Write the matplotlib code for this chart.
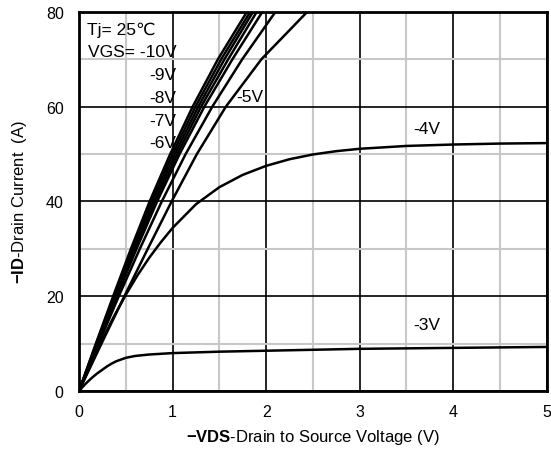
import numpy as np
import matplotlib.pyplot as plt

plt.rcParams['font.family'] = ['Liberation Sans', 'DejaVu Sans']
plt.rcParams['mathtext.fontset'] = 'custom'
plt.rcParams['mathtext.rm'] = 'Liberation Sans'
plt.rcParams['mathtext.bf'] = 'Liberation Sans:bold'

# steep curves (-10V ... -5V), -VDS read at fixed current levels
id_levels = [0, 10, 20, 30, 40, 50, 60, 70, 80]
vds_m10 = [0, 0.18, 0.365, 0.555, 0.755, 0.975, 1.215, 1.485, 1.795]
vds_m9 = [0, 0.185, 0.375, 0.57, 0.775, 1.0, 1.245, 1.52, 1.83]
vds_m8 = [0, 0.19, 0.385, 0.585, 0.795, 1.025, 1.275, 1.555, 1.86]
vds_m7 = [0, 0.195, 0.395, 0.60, 0.815, 1.05, 1.305, 1.595, 1.90]
vds_m6 = [0, 0.20, 0.405, 0.615, 0.835, 1.075, 1.34, 1.64, 1.96]
vds_m55 = [0, 0.21, 0.425, 0.65, 0.885, 1.14, 1.425, 1.745, 2.10]
vds_m5 = [0, 0.24, 0.485, 0.735, 0.99, 1.26, 1.57, 1.95, 2.44]

# -4V and -3V curves
vds_m4 = [0, 0.125, 0.25, 0.375, 0.5, 0.625, 0.75, 0.875, 1.0, 1.25, 1.5,
          1.75, 2.0, 2.25, 2.5, 2.75, 3.0, 3.5, 4.0, 4.5, 5.0]
id_m4 = [0, 5.6, 10.9, 15.8, 20.3, 24.4, 28.1, 31.4, 34.4, 39.4, 43.0,
         45.6, 47.5, 48.9, 49.9, 50.6, 51.1, 51.7, 52.0, 52.2, 52.3]
vds_m3 = [0, 0.05, 0.1, 0.15, 0.2, 0.25, 0.3, 0.35, 0.4, 0.5, 0.6, 0.75,
          1.0, 1.5, 2.0, 3.0, 4.0, 5.0]
id_m3 = [0, 1.1, 2.1, 3.0, 3.8, 4.5, 5.2, 5.8, 6.3, 7.0, 7.4, 7.7,
         8.0, 8.3, 8.5, 8.9, 9.1, 9.3]

fig = plt.figure(figsize=(5.51, 4.52), dpi=100)
ax = fig.add_axes([0.1434, 0.1327, 0.849, 0.839])

lw = 1.8
for xs in [vds_m10, vds_m9, vds_m8, vds_m7, vds_m6, vds_m55, vds_m5]:
    ax.plot(xs, id_levels, color='black', lw=lw)
ax.plot(vds_m4, id_m4, color='black', lw=lw)
ax.plot(vds_m3, id_m3, color='black', lw=lw)

ax.set_xlim(0, 5)
ax.set_ylim(0, 80)
ax.set_xticks([0, 1, 2, 3, 4, 5])
ax.set_yticks([0, 20, 40, 60, 80])
ax.set_xticks(np.arange(0.5, 5, 1), minor=True)
ax.set_yticks([10, 30, 50, 70], minor=True)
ax.grid(which='minor', color='#c8c8c8', lw=1.5)
ax.grid(which='major', color='black', lw=1.2)
ax.set_axisbelow(True)
ax.tick_params(which='both', length=0, labelsize=11.5)
ax.tick_params(axis='x', pad=9)
ax.tick_params(axis='y', pad=11)
for s in ax.spines.values():
    s.set_linewidth(2)

ax.set_xlabel(r'$\mathbf{-VDS}$-Drain to Source Voltage (V)', fontsize=12, labelpad=6)
ax.set_ylabel(r'$\mathbf{-ID}$-Drain Current  (A)', fontsize=12, labelpad=12)

fs = 12.5
ax.text(0.45, 76.4, 'Tj= 25\u2103', fontsize=fs, ha='center', va='center')
ax.text(1.04, 71.7, 'VGS= -10V', fontsize=fs, ha='right', va='center')
ax.text(1.04, 66.7, '-9V', fontsize=fs, ha='right', va='center')
ax.text(1.04, 62.0, '-8V', fontsize=fs, ha='right', va='center')
ax.text(1.04, 57.1, '-7V', fontsize=fs, ha='right', va='center')
ax.text(1.04, 52.4, '-6V', fontsize=fs, ha='right', va='center')
ax.text(1.83, 62.2, '-5V', fontsize=fs, ha='center', va='center')
ax.text(3.72, 55.3, '-4V', fontsize=fs, ha='center', va='center')
ax.text(3.72, 14.1, '-3V', fontsize=fs, ha='center', va='center')

fig.savefig('out.png', dpi=100)
